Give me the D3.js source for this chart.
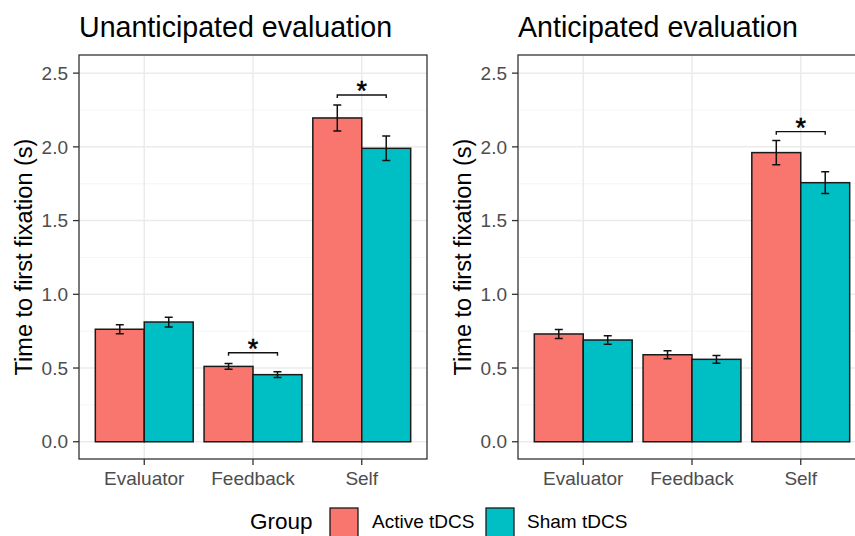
<!DOCTYPE html>
<html><head><meta charset="utf-8">
<script src="https://cdn.jsdelivr.net/npm/d3@7"></script>
<style>body{margin:0;background:#fff}svg{display:block;font-family:"Liberation Sans",Arial,sans-serif}</style>
</head><body><svg id="c" width="855" height="536"></svg>
<script>
const categories = ["Evaluator","Feedback","Self"];
const groups = ["Active tDCS","Sham tDCS"];
const colors = ["#F8766D","#00BFC4"];
const panelTitles = ["Unanticipated evaluation","Anticipated evaluation"];
// means [category][group]
const unanticipatedMeans = [[0.763,0.812],[0.511,0.455],[2.196,1.990]];
const unanticipatedErr   = [[0.031,0.033],[0.020,0.020],[0.088,0.083]];
const anticipatedMeans   = [[0.731,0.690],[0.590,0.559],[1.961,1.757]];
const anticipatedErr     = [[0.030,0.029],[0.027,0.026],[0.082,0.074]];
// significance brackets: [category index, bracket y]
const unanticipatedSig = [[1,0.604],[2,2.352]];
const anticipatedSig   = [[2,2.103]];
const yTicks = [0,0.5,1.0,1.5,2.0,2.5];
const yMinor = [0.25,0.75,1.25,1.75,2.25];

const svg = d3.select("#c");
const panels = [
  {title:panelTitles[0], means:unanticipatedMeans, err:unanticipatedErr, sig:unanticipatedSig, x0:79, x1:427},
  {title:panelTitles[1], means:anticipatedMeans, err:anticipatedErr, sig:anticipatedSig, x0:518, x1:866}
];
const pTop = 55, pBottom = 459;
const y = d3.scaleLinear().domain([-0.117, 2.623]).range([pBottom, pTop]);

panels.forEach(p => {
  const g = svg.append("g");
  const unit = (p.x1 - p.x0) / 3.2;
  const x = d3.scalePoint().domain(categories).range([p.x0 + unit*0.6, p.x1 - unit*0.6]);
  const cx = d => x(d);
  const bw = unit * 0.9 / 2;
  g.selectAll(".ymin").data(yMinor).join("line")
    .attr("x1",p.x0).attr("x2",p.x1).attr("y1",d=>y(d)).attr("y2",d=>y(d))
    .attr("stroke","#f2f2f2").attr("stroke-width",0.8);
  g.selectAll(".ymaj").data(yTicks).join("line")
    .attr("x1",p.x0).attr("x2",p.x1).attr("y1",d=>y(d)).attr("y2",d=>y(d))
    .attr("stroke","#ebebeb").attr("stroke-width",1.5);
  g.selectAll(".xmaj").data(categories).join("line")
    .attr("x1",d=>cx(d)).attr("x2",d=>cx(d)).attr("y1",pTop).attr("y2",pBottom)
    .attr("stroke","#ebebeb").attr("stroke-width",1.5);
  categories.forEach((c,i) => {
    groups.forEach((gr,j) => {
      const bx = cx(c) - bw + j*bw;
      g.append("rect").attr("x",bx).attr("y",y(p.means[i][j]))
        .attr("width",bw).attr("height",y(0)-y(p.means[i][j]))
        .attr("fill",colors[j]).attr("stroke","#1a1a1a").attr("stroke-width",1.5);
    });
  });
  categories.forEach((c,i) => {
    groups.forEach((gr,j) => {
      const mx = cx(c) - bw/2 + j*bw;
      const hi = y(p.means[i][j]+p.err[i][j]), lo = y(p.means[i][j]-p.err[i][j]);
      const w = 4;
      g.append("path").attr("d",`M${mx-w},${hi}H${mx+w}M${mx},${hi}V${lo}M${mx-w},${lo}H${mx+w}`)
        .attr("stroke","#111").attr("stroke-width",1.5).attr("fill","none");
    });
  });
  p.sig.forEach(([ci,yv]) => {
    const c = categories[ci];
    const a = cx(c) - bw/2, b = cx(c) + bw/2;
    const yy = y(yv);
    g.append("path").attr("d",`M${a},${yy+3}V${yy}H${b}V${yy+3}`)
      .attr("stroke","#111").attr("stroke-width",1.4).attr("fill","none");
    g.append("text").attr("x",(a+b)/2).attr("y",yy+5).attr("text-anchor","middle")
      .attr("font-size",27).attr("fill","#000").attr("stroke","#000").attr("stroke-width",0.5).text("*");
  });
  g.append("rect").attr("x",p.x0).attr("y",pTop).attr("width",p.x1-p.x0).attr("height",pBottom-pTop)
    .attr("fill","none").attr("stroke","#333").attr("stroke-width",1.3);
  g.selectAll(".yt").data(yTicks).join("line")
    .attr("x1",p.x0-6).attr("x2",p.x0).attr("y1",d=>y(d)).attr("y2",d=>y(d))
    .attr("stroke","#333").attr("stroke-width",1.3);
  g.selectAll(".yl").data(yTicks).join("text")
    .attr("x",p.x0-11).attr("y",d=>y(d)).attr("dy","0.35em").attr("text-anchor","end")
    .attr("font-size",19).attr("fill","#4d4d4d").text(d=>d3.format(".1f")(d));
  g.selectAll(".xt").data(categories).join("line")
    .attr("x1",d=>cx(d)).attr("x2",d=>cx(d)).attr("y1",pBottom).attr("y2",pBottom+6)
    .attr("stroke","#333").attr("stroke-width",1.3);
  g.selectAll(".xl").data(categories).join("text")
    .attr("x",d=>cx(d)).attr("y",485).attr("text-anchor","middle")
    .attr("font-size",19).attr("fill","#4d4d4d").text(d=>d);
  g.append("text").attr("transform",`translate(${p.x0-47},${(pTop+pBottom)/2}) rotate(-90)`)
    .attr("text-anchor","middle").attr("font-size",23.5).attr("fill","#000").text("Time to first fixation (s)");
  g.append("text").attr("x",p.x0).attr("y",37).attr("font-size",28.6).attr("fill","#000").text(p.title);
});

const lg = svg.append("g");
lg.append("text").attr("x",250).attr("y",529).attr("font-size",22.5).attr("fill","#000").text("Group");
const keyX = [330, 486], labX = [372, 527];
groups.forEach((gname,j) => {
  lg.append("rect").attr("x",keyX[j]).attr("y",508).attr("width",28).attr("height",30)
    .attr("fill",colors[j]).attr("stroke","#1a1a1a").attr("stroke-width",1.3);
  lg.append("text").attr("x",labX[j]).attr("y",528).attr("font-size",19).attr("fill","#000").text(gname);
});
</script></body></html>
